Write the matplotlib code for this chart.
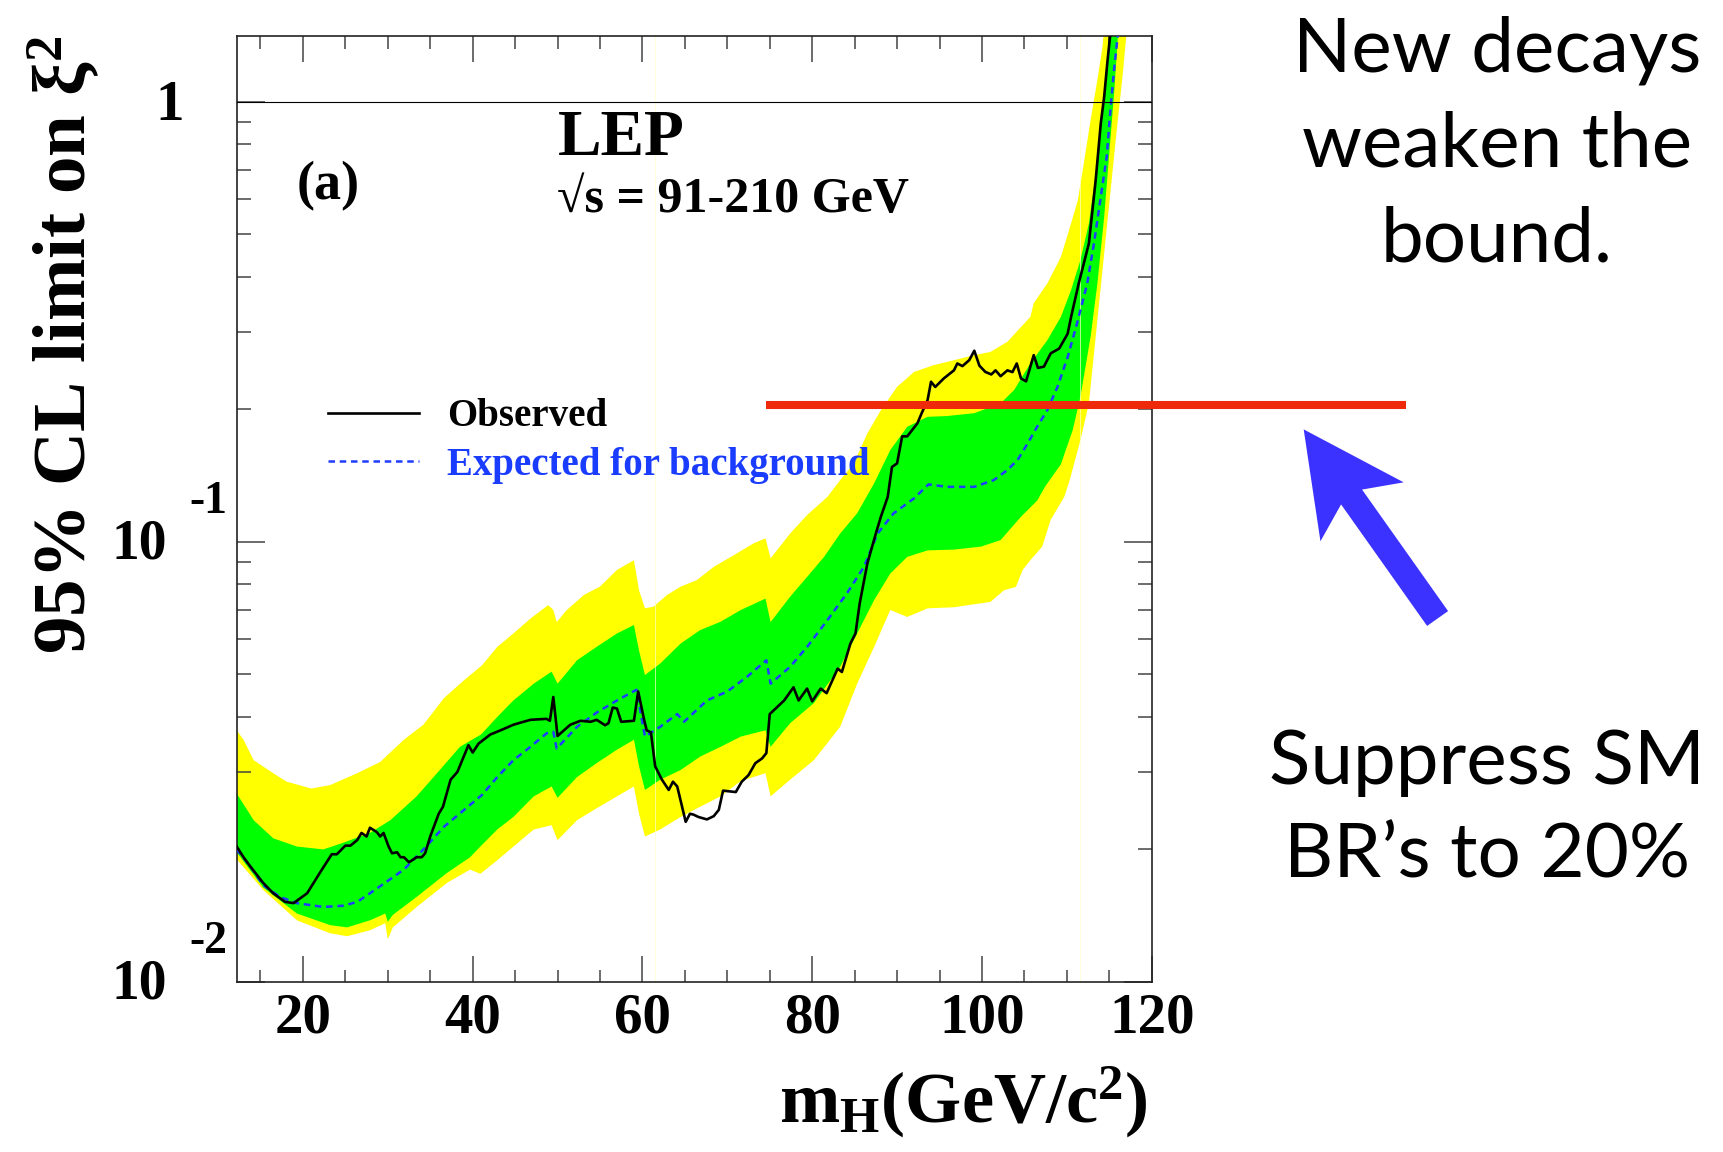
import numpy as np
import matplotlib
matplotlib.use("Agg")
import matplotlib.pyplot as plt
from matplotlib.patches import FancyArrow
from matplotlib.ticker import FixedLocator, MultipleLocator, LogLocator, NullFormatter

# ---------------- data ----------------
obs_mass = [12.2, 13.0, 13.8, 15.3, 16.5, 17.9, 18.9, 20.5, 22.0, 23.4,
            24.0, 25.0, 25.6, 26.4, 26.9, 27.5, 27.9, 28.7, 29.1, 29.5,
            30.1, 30.5, 31.1, 31.5, 31.9, 32.5, 33.4, 34.0, 34.4, 35.0,
            36.0, 36.5, 37.4, 38.2, 39.5, 40.0, 40.7, 42.1, 43.3, 44.8,
            46.8, 48.7, 49.1, 49.5, 50.0, 51.5, 52.7, 53.9, 54.6, 55.6,
            56.0, 56.5, 57.0, 57.5, 59.0, 59.5, 60.2, 60.5, 61.0, 61.5,
            62.3, 63.1, 63.6, 64.1, 65.1, 65.6, 66.0, 66.6, 67.6, 68.4,
            69.0, 69.5, 70.2, 71.0, 71.7, 72.5, 73.3, 74.1, 74.6, 75.0,
            76.7, 77.8, 78.4, 79.4, 80.0, 81.0, 81.7, 83.0, 83.5, 84.5,
            85.1, 85.6, 86.5, 87.5, 88.1, 88.9, 89.4, 90.0, 90.6, 91.2,
            92.4, 92.9, 93.6, 94.0, 94.5, 95.5, 96.7, 97.1, 97.7, 98.5,
            99.1, 99.7, 100.4, 101.1, 101.6, 102.2, 103.0, 103.6, 104.1, 104.6,
            105.2, 106.1, 106.6, 107.3, 108.1, 109.1, 110.1, 110.5, 111.4, 112.6,
            113.4, 114.0, 114.4, 114.8, 115.1, 115.4]
obs_limit = [0.0203, 0.0192, 0.0183, 0.0168, 0.0159, 0.0152, 0.0151, 0.0159, 0.0177, 0.0195,
             0.0195, 0.0204, 0.0204, 0.0210, 0.0218, 0.0214, 0.0224, 0.0219, 0.0214, 0.0218,
             0.0203, 0.0196, 0.0197, 0.0192, 0.0192, 0.0187, 0.0192, 0.0192, 0.0196, 0.0214,
             0.0241, 0.0250, 0.0288, 0.0300, 0.0345, 0.0332, 0.0348, 0.0365, 0.0373, 0.0384,
             0.0394, 0.0396, 0.0392, 0.0444, 0.0362, 0.0384, 0.0392, 0.0390, 0.0394, 0.0383,
             0.0387, 0.0420, 0.0418, 0.0390, 0.0392, 0.0457, 0.0394, 0.0373, 0.0369, 0.0309,
             0.0288, 0.0273, 0.0285, 0.0278, 0.0231, 0.0241, 0.0240, 0.0237, 0.0234, 0.0238,
             0.0246, 0.0272, 0.0271, 0.0270, 0.0285, 0.0295, 0.0314, 0.0322, 0.0331, 0.0406,
             0.0436, 0.0467, 0.0436, 0.0464, 0.0434, 0.0464, 0.0453, 0.0515, 0.0506, 0.0587,
             0.0619, 0.0725, 0.0893, 0.1044, 0.1141, 0.1265, 0.1479, 0.1507, 0.1736, 0.1736,
             0.1859, 0.1960, 0.2100, 0.2310, 0.2248, 0.2350, 0.2452, 0.2542, 0.2507, 0.2586,
             0.2717, 0.2513, 0.2432, 0.2400, 0.2452, 0.2378, 0.2452, 0.2430, 0.2542, 0.2350,
             0.2315, 0.2655, 0.2484, 0.2500, 0.2680, 0.2748, 0.2970, 0.3242, 0.3862, 0.4765,
             0.6634, 0.892, 1.026, 1.242, 1.41, 1.70]

exp_mass = [12.2, 13.8, 15.3, 17.3, 19.3, 22.4, 24.8, 26.4, 27.9, 29.5,
            31.9, 34.2, 36.6, 39.0, 41.1, 42.9, 44.8, 46.8, 48.7, 49.5,
            49.9, 52.3, 54.6, 57.0, 59.3, 60.3, 62.1, 64.1, 64.9, 67.6,
            70.0, 72.3, 74.6, 75.1, 77.4, 79.4, 81.8, 84.1, 86.1, 87.7,
            89.6, 92.0, 93.7, 95.9, 99.1, 101.4, 103.0, 104.2, 105.4, 106.5,
            107.7, 108.9, 110.1, 111.2, 112.4, 113.2, 114.0, 114.7, 115.2, 115.6,
            116.0, 116.4]
exp_limit = [0.0200, 0.0183, 0.0166, 0.0156, 0.0151, 0.0148, 0.0149, 0.0152, 0.0159, 0.0167,
             0.0180, 0.0200, 0.0225, 0.0246, 0.0266, 0.0292, 0.0319, 0.0342, 0.0367, 0.0370,
             0.0339, 0.0380, 0.0409, 0.0436, 0.0461, 0.0361, 0.0380, 0.0406, 0.0390, 0.0436,
             0.0457, 0.0493, 0.0538, 0.0476, 0.0520, 0.0577, 0.0664, 0.0764, 0.0877, 0.1044,
             0.1161, 0.1255, 0.1350, 0.1333, 0.1333, 0.1381, 0.1456, 0.1534, 0.1675, 0.1825,
             0.1991, 0.2249, 0.2630, 0.3133, 0.3862, 0.4765, 0.608, 0.750, 0.991, 1.20,
             1.41, 1.70]

# +-1 sigma band (green)
green_hi_mass = [12.2, 14.2, 16.5, 19.3, 22.4, 24.4, 27.9, 30.3, 33.4, 35.8,
                 38.5, 41.0, 42.9, 44.8, 47.2, 49.3, 50.0, 52.3, 54.6, 57.0,
                 59.0, 59.6, 60.3, 62.1, 64.5, 66.8, 69.2, 71.6, 74.5, 75.1,
                 77.4, 79.4, 81.4, 83.3, 85.3, 87.3, 89.2, 91.2, 93.6, 95.9,
                 99.1, 102.2, 103.8, 105.7, 107.7, 109.3, 110.5, 111.6, 112.6, 113.4,
                 114.0, 114.6, 115.3]
green_hi = [0.0268, 0.0233, 0.0212, 0.0203, 0.0200, 0.0206, 0.0218, 0.0233, 0.0264, 0.0298,
            0.0342, 0.0365, 0.0400, 0.0436, 0.0476, 0.0507, 0.0476, 0.0538, 0.0577, 0.0619,
            0.0647, 0.0566, 0.0498, 0.0529, 0.0587, 0.0630, 0.0658, 0.0700, 0.0743, 0.0657,
            0.0750, 0.0832, 0.0924, 0.1044, 0.1161, 0.1358, 0.1616, 0.1825, 0.1923, 0.1931,
            0.1960, 0.2063, 0.2213, 0.2542, 0.2870, 0.3242, 0.3733, 0.4365, 0.5287, 0.687,
            0.862, 1.12, 1.70]
green_lo_mass = [12.2, 15.3, 19.3, 23.2, 25.2, 27.9, 29.7, 30.0, 30.6, 33.4,
                 37.0, 39.7, 40.9, 42.9, 44.8, 47.2, 49.3, 50.0, 52.3, 54.6,
                 57.0, 59.0, 59.6, 60.3, 62.1, 64.5, 66.8, 69.2, 71.6, 74.5,
                 75.1, 77.4, 80.2, 83.3, 85.3, 87.3, 89.2, 91.2, 93.6, 96.7,
                 99.9, 102.2, 104.6, 106.5, 107.5, 109.3, 110.7, 111.6, 112.8, 113.6,
                 114.4, 115.0, 115.6, 116.3]
green_lo = [0.0197, 0.0164, 0.0143, 0.01346, 0.0133, 0.0138, 0.0143, 0.0137, 0.0142, 0.0156,
            0.0177, 0.0192, 0.0203, 0.0222, 0.0237, 0.0264, 0.0278, 0.0262, 0.0292, 0.0314,
            0.0337, 0.0355, 0.0309, 0.0273, 0.0288, 0.0303, 0.0325, 0.0342, 0.0361, 0.0373,
            0.0342, 0.0387, 0.0430, 0.0520, 0.0619, 0.0737, 0.0847, 0.0924, 0.0956, 0.0960,
            0.0975, 0.1009, 0.114, 0.124, 0.134, 0.150, 0.1795, 0.2133, 0.2923, 0.3862,
            0.547, 0.762, 1.062, 1.70]

# +-2 sigma band (yellow)
yellow_hi_mass = [12.2, 13.0, 14.2, 16.5, 18.1, 21.0, 23.2, 26.4, 29.1, 31.9,
                  34.2, 36.6, 39.0, 41.1, 42.9, 44.8, 46.8, 48.9, 49.5, 49.9,
                  51.1, 53.1, 55.0, 57.0, 59.0, 59.6, 60.3, 61.3, 62.9, 64.5,
                  66.4, 68.4, 70.8, 73.1, 74.5, 75.1, 77.4, 79.4, 81.8, 83.3,
                  84.9, 86.5, 88.1, 90.0, 92.0, 94.3, 96.7, 99.1, 101.0, 103.0,
                  104.6, 105.7, 106.1, 107.7, 109.3, 110.5, 111.3, 112.0, 112.8, 113.6,
                  114.2, 114.7]
yellow_hi = [0.0373, 0.0355, 0.0319, 0.0298, 0.0285, 0.0275, 0.0280, 0.0298, 0.0316, 0.0355,
             0.0384, 0.0441, 0.0485, 0.0524, 0.0577, 0.0619, 0.0669, 0.0718, 0.0700, 0.0657,
             0.0700, 0.0757, 0.0791, 0.0863, 0.0908, 0.0776, 0.0706, 0.0712, 0.0757, 0.0791,
             0.0818, 0.0877, 0.0933, 0.0992, 0.1018, 0.0917, 0.1044, 0.1150, 0.1265, 0.1381,
             0.1507, 0.1763, 0.1991, 0.2249, 0.2432, 0.2519, 0.2586, 0.2655, 0.2700, 0.2847,
             0.3076, 0.3242, 0.3484, 0.3862, 0.4438, 0.5287, 0.597, 0.724, 0.908, 1.12,
             1.33, 1.70]
yellow_lo_mass = [12.2, 15.3, 19.3, 23.2, 25.2, 27.9, 29.7, 30.0, 30.6, 33.4,
                  37.0, 39.7, 40.9, 42.9, 44.8, 47.2, 49.3, 50.0, 52.3, 54.6,
                  57.0, 59.0, 59.6, 60.3, 62.1, 64.5, 66.8, 69.2, 71.6, 74.5,
                  75.1, 77.4, 80.2, 83.3, 85.3, 87.3, 89.2, 91.2, 93.6, 96.7,
                  99.9, 101.0, 102.6, 104.0, 104.8, 105.7, 107.1, 108.1, 109.7, 110.3,
                  111.6, 112.6, 113.4, 114.2, 115.0, 115.8, 116.6, 117.4]
yellow_lo = [0.0190, 0.0162, 0.0138, 0.0129, 0.0127, 0.0131, 0.0136, 0.0125, 0.0133, 0.0148,
             0.0168, 0.0180, 0.0176, 0.0189, 0.0203, 0.0222, 0.0227, 0.0210, 0.0233, 0.0248,
             0.0264, 0.0278, 0.0241, 0.0214, 0.0222, 0.0237, 0.0250, 0.0264, 0.0286, 0.0298,
             0.0264, 0.0288, 0.0319, 0.0380, 0.0476, 0.0577, 0.0700, 0.0675, 0.0706, 0.0710,
             0.0725, 0.0730, 0.0776, 0.0790, 0.0863, 0.0908, 0.0975, 0.1122, 0.1265, 0.1373,
             0.170, 0.2063, 0.2923, 0.414, 0.587, 0.832, 1.16, 1.70]

x_ticks = [20, 40, 60, 80, 100, 120]
x_tick_labels = ["20", "40", "60", "80", "100", "120"]
y_decades = [0.01, 0.1]
y_decade_exps = ["-2", "-1"]
unity = 1.0
br_level = 0.205
br_mass = [74.6, 150.0]
seam_mass = [61.45, 111.6]

# ---------------- style ----------------
plt.rcParams["font.family"] = ["Liberation Serif", "DejaVu Serif"]
plt.rcParams["font.weight"] = "bold"
plt.rcParams["mathtext.fontset"] = "custom"
plt.rcParams["mathtext.rm"] = "Liberation Serif:bold"
plt.rcParams["mathtext.it"] = "Liberation Serif:bold"
plt.rcParams["mathtext.bf"] = "Liberation Serif:bold"
plt.rcParams["mathtext.default"] = "rm"

W, H = 1724, 1152
fig = plt.figure(figsize=(W / 100, H / 100), dpi=100)
fig.patch.set_facecolor("white")

L, R, T, B = 236.7, 1151.7, 36.0, 981.9
ax = fig.add_axes([L / W, 1 - B / H, (R - L) / W, (B - T) / H])
ax.set_yscale("log")
ax.set_xlim(12.2, 120)
ax.set_ylim(0.01, 1.41)

YELLOW = "#ffff00"
GREEN = "#00ff00"
BLUE = "#1f3cff"

ax.fill(np.r_[yellow_hi_mass, yellow_lo_mass[::-1]], np.r_[yellow_hi, yellow_lo[::-1]],
        color=YELLOW, lw=0, zorder=1)
ax.fill(np.r_[green_hi_mass, green_lo_mass[::-1]], np.r_[green_hi, green_lo[::-1]],
        color=GREEN, lw=0, zorder=2)
for sm in seam_mass:
    ax.axvline(sm, color="#ffffc8", lw=0.7, alpha=0.7, zorder=2.5)

exp_line, = ax.plot(exp_mass, exp_limit, color=BLUE, lw=1.8, dashes=(2.6, 1.9), zorder=3)
obs_line, = ax.plot(obs_mass, obs_limit, color="black", lw=1.9, zorder=4)
ax.axhline(unity, color="black", lw=0.8, zorder=4)

ax.plot(br_mass, [br_level, br_level], color="#ee2a0a", lw=5.8, solid_capstyle="butt",
        clip_on=False, zorder=6)

# axes / ticks
for s in ax.spines.values():
    s.set_linewidth(1.2)
    s.set_color("#222222")
ax.set_xticks(x_ticks)
ax.set_xticklabels(x_tick_labels)
ax.xaxis.set_minor_locator(MultipleLocator(5))
ax.yaxis.set_major_locator(FixedLocator([0.01, 0.1, 1.0]))
ax.yaxis.set_minor_locator(LogLocator(base=10, subs=np.arange(2, 10), numticks=20))
ax.yaxis.set_major_formatter(NullFormatter())
ax.yaxis.set_minor_formatter(NullFormatter())
ax.tick_params(axis="both", which="both", direction="in", top=True, right=True,
               color="#444444", width=1.1)
ax.tick_params(axis="x", which="major", length=19, pad=7.5, labelsize=41)
ax.tick_params(axis="x", which="minor", length=9)
ax.tick_params(axis="y", which="major", length=20.5)
ax.tick_params(axis="y", which="minor", length=10.3)

# ROOT-style y tick labels
for v, e in zip(y_decades, y_decade_exps):
    ax.annotate("10", xy=(0, v), xycoords=("axes fraction", "data"), xytext=(-69.7, -16.5),
                textcoords="offset pixels", ha="right", va="baseline", fontsize=40,
                annotation_clip=False)
    ax.annotate(e, xy=(0, v), xycoords=("axes fraction", "data"), xytext=(-47.3, 28.7),
                textcoords="offset pixels", ha="left", va="baseline", fontsize=33,
                annotation_clip=False)
ax.annotate("1", xy=(0, unity), xycoords=("axes fraction", "data"), xytext=(-52.7, -18.5),
            textcoords="offset pixels", ha="right", va="baseline", fontsize=41,
            annotation_clip=False)

# legend
leg = ax.legend(handles=[obs_line, exp_line], labels=["Observed", "Expected for background"],
                loc="upper left", bbox_to_anchor=(0.0998, 0.617), frameon=False,
                fontsize=28, handlelength=2.34, handletextpad=0.73, labelspacing=0.29,
                borderpad=0, borderaxespad=0)
leg.get_texts()[1].set_color("#1a3cff")

# texts in the frame
def fpx(x, y):
    return x / W, 1 - y / H

fig.text(*fpx(297, 199), "(a)", fontsize=39, ha="left", va="baseline")
fig.text(*fpx(558, 155), "LEP", fontsize=47, ha="left", va="baseline")
fig.text(*fpx(557, 212), "\u221as = 91-210 GeV", fontsize=36, ha="left", va="baseline")

fig.text(*fpx(1148, 1123), r"$\mathrm{m_{H}(GeV/c^{2})}$", fontsize=52,
         ha="right", va="baseline")
fig.text(*fpx(64, 36), r"95% CL limit on $\xi^{2}$", fontsize=54, rotation=90,
         ha="center", va="top")

# annotations on the right
sans = ["Lato", "DejaVu Sans"]
for s, y in [("New decays", 71.8), ("weaken the", 166.5), ("bound.", 261.0)]:
    fig.text(*fpx(1497, y), s, family=sans, weight="normal", fontsize=55,
             ha="center", va="baseline")
for s, y in [("Suppress SM", 783.6), ("BR\u2019s to 20%", 878.0)]:
    fig.text(*fpx(1487, y), s, family=sans, weight="normal", fontsize=55,
             ha="center", va="baseline")

arrow = FancyArrow(14.376, (H - 618.5) / 100, -1.339, 1.891, width=0.257,
                   head_width=1.02, head_length=1.01, overhang=0.18,
                   length_includes_head=True, color="#3c32ff", lw=0,
                   transform=fig.dpi_scale_trans)
fig.add_artist(arrow)

fig.savefig("out.png", dpi=100)
